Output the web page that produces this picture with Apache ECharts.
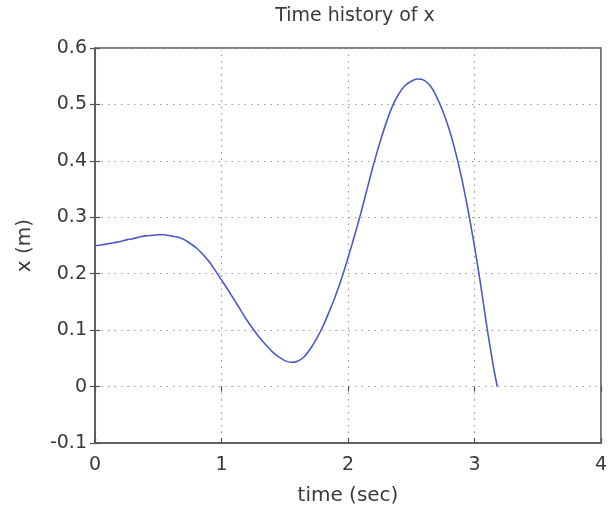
<!DOCTYPE html>
<html>
<head>
<meta charset="utf-8">
<script src="https://cdn.jsdelivr.net/npm/echarts@6/dist/echarts.min.js"></script>
<style>
html,body{margin:0;padding:0;background:#fff;}
#c{width:610px;height:518px;}
</style>
</head>
<body>
<div id="c"></div>
<script>
const titleText = "Time history of x";
const xLabel = "time (sec)";
const yLabel = "x (m)";
const time = [0.00,0.05,0.10,0.15,0.20,0.25,0.30,0.35,0.40,0.45,0.50,0.55,0.60,0.65,0.70,0.75,0.80,0.85,0.90,0.95,
  1.00,1.05,1.10,1.15,1.20,1.25,1.30,1.35,1.40,1.45,1.50,1.55,1.60,1.65,1.70,1.75,1.80,1.85,1.90,1.95,
  2.00,2.05,2.10,2.15,2.20,2.25,2.30,2.35,2.40,2.45,2.50,2.55,2.60,2.65,2.70,2.75,2.80,2.85,2.90,2.95,
  3.00,3.05,3.10,3.15,3.18];
const xVal = [0.250,0.251,0.253,0.255,0.257,0.260,0.262,0.265,0.267,0.268,0.269,0.269,0.267,0.265,0.261,0.254,0.246,0.235,0.222,0.206,
  0.189,0.172,0.154,0.136,0.118,0.102,0.087,0.074,0.062,0.053,0.046,0.043,0.045,0.052,0.066,0.084,0.106,0.132,0.160,0.192,
  0.228,0.266,0.306,0.349,0.392,0.431,0.466,0.496,0.518,0.533,0.541,0.545,0.543,0.533,0.514,0.488,0.456,0.416,0.368,0.312,
  0.249,0.179,0.103,0.035,0.000];
const xTicks = [0,1,2,3,4];
const yTicks = [-0.1,0,0.1,0.2,0.3,0.4,0.5,0.6];

const chart = echarts.init(document.getElementById('c'));
const font = "'DejaVu Sans', sans-serif";
const txt = '#3a3a3a';
const dotted = {show:true, lineStyle:{color:'#9a9a9a', type:[1.5,5], width:1.2}};
const innerTick = {show:true, inside:true, length:5, lineStyle:{color:'#555', width:1.2}};
chart.setOption({
  animation:false,
  backgroundColor:'#fff',
  title:{text:titleText, left:350, top:2, textAlign:'center',
    textStyle:{fontFamily:font, fontSize:19, fontWeight:'normal', color:txt}},
  grid:{left:95, right:8, top:48, bottom:75, show:true, borderColor:'#555', borderWidth:1.5, backgroundColor:'#fff'},
  xAxis:[{
    type:'value', min:xTicks[0], max:xTicks[xTicks.length-1], interval:1,
    name:xLabel, nameLocation:'middle', nameGap:43,
    nameTextStyle:{fontFamily:font, fontSize:20, color:txt},
    axisLine:{show:true, onZero:false, lineStyle:{color:'#555', width:1.5}},
    axisTick:innerTick,
    axisLabel:{fontFamily:font, fontSize:19, color:txt, margin:13},
    splitLine:dotted
  },{
    type:'value', min:xTicks[0], max:xTicks[xTicks.length-1], interval:1, position:'top',
    axisLine:{show:false}, axisTick:innerTick,
    axisLabel:{show:false}, splitLine:{show:false}
  }],
  yAxis:[{
    type:'value', min:yTicks[0], max:yTicks[yTicks.length-1], interval:0.1,
    name:yLabel, nameLocation:'middle', nameGap:60,
    nameTextStyle:{fontFamily:font, fontSize:20, color:txt},
    axisLine:{show:true, onZero:false, lineStyle:{color:'#555', width:1.5}},
    axisTick:innerTick,
    axisLabel:{fontFamily:font, fontSize:19, color:txt, margin:8,
      formatter:v=>{const r=Math.round(v*10)/10; return r===0?'0':r.toFixed(1);}},
    splitLine:dotted
  },{
    type:'value', min:yTicks[0], max:yTicks[yTicks.length-1], interval:0.1, position:'right',
    axisLine:{show:false}, axisTick:innerTick,
    axisLabel:{show:false}, splitLine:{show:false}
  }],
  series:[{
    type:'line', xAxisIndex:0, yAxisIndex:0,
    data: time.map((t,i)=>[t, xVal[i]]),
    smooth:0.2, symbol:'none',
    lineStyle:{color:'#4a5bc4', width:1.6}
  }]
});
</script>
</body>
</html>
